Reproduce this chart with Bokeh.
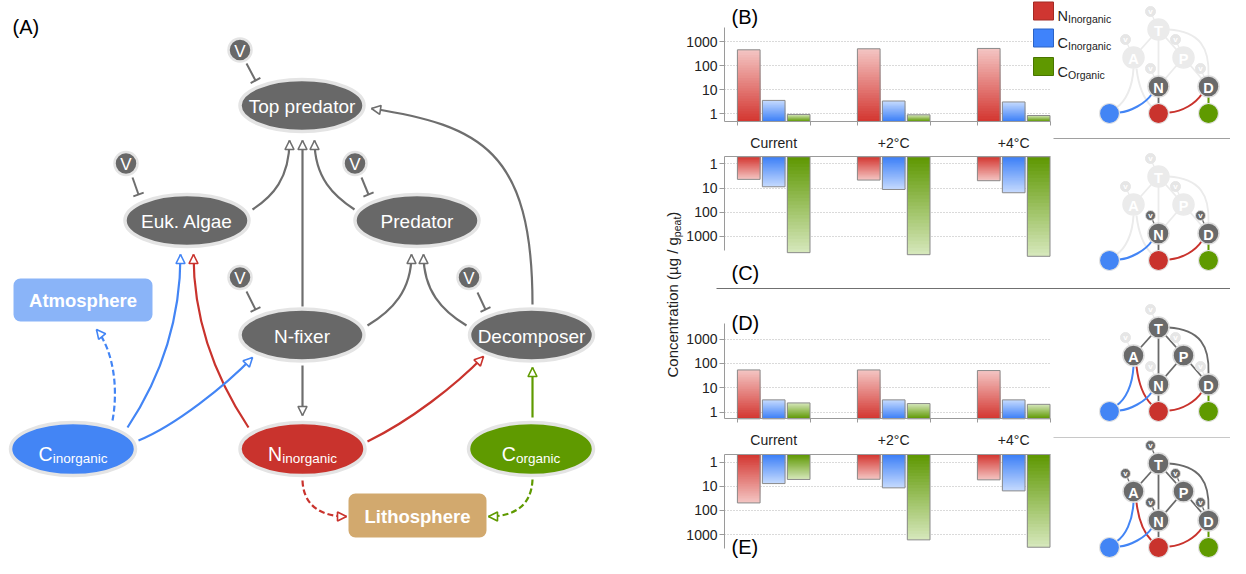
import math
from bokeh.plotting import figure
from bokeh.models import (Range1d, LogScale, LinearScale, LogAxis, LinearAxis, FixedTicker,
                          BasicTickFormatter, Grid, Arrow, NormalHead, TeeHead, ColumnDataSource)
from bokeh.core.properties import value
from bokeh.embed import file_html
from bokeh.resources import INLINE

# ---------------------------------------------------------------- data
categories = ["Current", "+2°C", "+4°C"]
series_labels = [("N", "Inorganic"), ("C", "Inorganic"), ("C", "Organic")]
y_ticks = [1, 10, 100, 1000]

# (B) network without virus, rhizosphere pools (upward bars)
B_N_inorganic = [452, 498, 515]
B_C_inorganic = [3.6, 3.4, 3.1]
B_C_organic = [0.94, 0.91, 0.85]
# (C) with viruses on N-fixer / decomposer (downward bars)
C_N_inorganic = [4.4, 4.7, 5.0]
C_C_inorganic = [8.9, 11.5, 15.7]
C_C_organic = [4700, 5700, 6650]
# (D) full network, no virus (upward bars)
D_N_inorganic = [54, 54, 51]
D_C_inorganic = [3.2, 3.2, 3.2]
D_C_organic = [2.4, 2.26, 2.1]
# (E) full network with viruses (downward bars)
E_N_inorganic = [49, 5.1, 5.4]
E_C_inorganic = [7.7, 11.6, 15.5]
E_C_organic = [5.2, 1670, 3380]

# ---------------------------------------------------------------- styles
FONT = "Liberation Sans"
GRAY = "#6e6e6e"
NODE = "#686868"
RING = "#e4e4e4"
BLUE = "#4385f5"
RED = "#c9332d"
GREEN = "#5f9a00"
FADE = "#ebebeb"

W, H = 1230, 558
X0, Y0 = 0, 0

p = figure(width=W, height=H, x_range=Range1d(X0, X0 + W), y_range=Range1d(Y0 + H, Y0),
           x_axis_type=None, y_axis_type=None, output_backend="svg", toolbar_location=None,
           min_border=0, outline_line_color=None, background_fill_color="white")


def txt(x, y, s, size, color="black", align="center", baseline="middle", bold=False, angle=0.0):
    p.text(x=[x], y=[y], text=[s], text_font=value(FONT), text_font_size=value(f"{size}px"),
           text_color=color, text_align=align, text_baseline=baseline,
           text_font_style="bold" if bold else "normal", angle=angle)


WID = {"C": .722, "N": .722, "i": .222, "n": .556, "o": .556, "r": .333, "g": .556, "a": .556,
       "c": .5, "I": .278, "O": .778, "p": .556, "e": .556, "t": .278, " ": .278, "(": .333,
       ")": .333, "µ": .576, "/": .278}


def twidth(s, size):
    return sum(WID.get(ch, .556) for ch in s) * size


def sub_label(xc, yc, main, sub, msize, ssize, color="white"):
    total = twidth(main, msize) + twidth(sub, ssize)
    x = xc - total / 2
    txt(x, yc + 0.36 * msize, main, msize, color, align="left", baseline="alphabetic")
    txt(x + twidth(main, msize), yc + 0.36 * msize + 4, sub, ssize, color, align="left",
        baseline="alphabetic")


def head_source(items):
    d = dict(x0=[], y0=[], x1=[], y1=[])
    for (ax, ay, bx, by) in items:
        L = math.hypot(bx - ax, by - ay)
        ux, uy = (bx - ax) / L, (by - ay) / L
        d["x0"].append(bx - 3 * ux)
        d["y0"].append(by - 3 * uy)
        d["x1"].append(bx)
        d["y1"].append(by)
    return ColumnDataSource(d)


# ================================================================ panel A : network
txt(12, 26, "(A)", 20, "black", align="left")

curves = [
    (252, 209, 272, 196, 289, 178, 289, 140, GRAY, "solid"),   # Euk -> Top
    (354, 209, 334, 196, 314, 178, 314, 140, GRAY, "solid"),   # Pred -> Top
    (532, 304, 532, 150, 480, 125, 371, 108, GRAY, "solid"),   # Dec -> Top
    (367, 325, 392, 310, 411, 290, 411, 254, GRAY, "solid"),   # Nfix -> Pred
    (466, 325, 441, 310, 423, 290, 423, 254, GRAY, "solid"),   # Dec -> Pred
    (127, 427, 165, 370, 180, 310, 180, 254, BLUE, "solid"),   # Ci -> Euk
    (248, 427, 210, 370, 193, 310, 193, 254, RED, "solid"),    # Ni -> Euk
    (138, 440, 175, 425, 225, 385, 252, 357, BLUE, "solid"),   # Ci -> Nfix
    (112, 420, 118, 388, 113, 350, 96, 329, BLUE, "dashed"),   # Ci -> Atmosphere
    (367, 441, 410, 420, 455, 385, 483, 356, RED, "solid"),    # Ni -> Dec
    (302, 480, 303, 505, 320, 516, 346, 516, RED, "dashed"),   # Ni -> Lithosphere
    (532, 479, 531, 505, 514, 516, 488, 516, GREEN, "dashed"),  # Co -> Lithosphere
]
straights = [
    (302, 306, 302, 140, GRAY),   # Nfix -> Top
    (302, 365, 302, 415, GRAY),   # Nfix -> Ni
    (532, 417, 532, 367, GREEN),  # Co -> Dec
]
heads = {GRAY: [], BLUE: [], RED: [], GREEN: []}
for (x0, y0, cx0, cy0, cx1, cy1, x1, y1, col, dash) in curves:
    p.bezier(x0=[x0], y0=[y0], cx0=[cx0], cy0=[cy0], cx1=[cx1], cy1=[cy1], x1=[x1], y1=[y1],
             line_color=col, line_width=2.2, line_dash="6 3" if dash == "dashed" else "solid")
    heads[col].append((cx1, cy1, x1, y1))
for (x0, y0, x1, y1, col) in straights:
    p.segment(x0=[x0], y0=[y0], x1=[x1], y1=[y1], line_color=col, line_width=2.2)
    heads[col].append((x0, y0, x1, y1))
for col, items in heads.items():
    p.add_layout(Arrow(end=NormalHead(size=9, fill_color="white", line_color=col, line_width=1.6),
                       source=head_source(items), x_start="x0", y_start="y0", x_end="x1",
                       y_end="y1", line_alpha=0))

# virus inhibition lines
tees = [(246, 63, 255, 80), (132, 177, 138, 194), (361, 177, 368, 194),
        (246, 291, 255, 309), (477, 292, 485, 309)]
tsrc = ColumnDataSource(dict(x0=[t[0] for t in tees], y0=[t[1] for t in tees],
                             x1=[t[2] for t in tees], y1=[t[3] for t in tees]))
p.add_layout(Arrow(end=TeeHead(size=11, line_color=GRAY, line_width=2), source=tsrc,
                   x_start="x0", y_start="y0", x_end="x1", y_end="y1",
                   line_color=GRAY, line_width=2))

# boxes
p.quad(left=[13], right=[152], top=[278], bottom=[321], fill_color="#8ab4f8", line_color=None,
       border_radius=7)
txt(82.5, 300, "Atmosphere", 18.5, "white", bold=True)
p.quad(left=[348], right=[486], top=[493], bottom=[537], fill_color="#d2a96e", line_color=None,
       border_radius=7)
txt(417, 516, "Lithosphere", 18.5, "white", bold=True)

# organism ellipses
orgs = [(301.5, 105, "Top predator"), (186.5, 220, "Euk. Algae"), (416.5, 220, "Predator"),
        (301.5, 334.5, "N-fixer"), (531, 334.5, "Decomposer")]
p.ellipse(x=[o[0] for o in orgs], y=[o[1] for o in orgs], width=124, height=52,
          width_units="screen", height_units="screen", fill_color=NODE, line_color=RING,
          line_width=3.5)
for (x, y, s) in orgs:
    txt(x, y + 1, s, 19, "white")

# pool ellipses
pools = [(72.5, 448.5, BLUE, "C", "inorganic"), (302, 448.5, RED, "N", "inorganic"),
         (530.5, 448.5, GREEN, "C", "organic")]
p.ellipse(x=[q[0] for q in pools], y=[q[1] for q in pools], width=125, height=53,
          width_units="screen", height_units="screen", fill_color=[q[2] for q in pools],
          line_color=RING, line_width=3.5)
for (x, y, c, m, s) in pools:
    sub_label(x, y - 2, m, s, 19.5, 13.5)

# virus circles
vir = [(239.5, 49.5), (125.5, 163), (354.5, 163), (239.5, 277), (468.5, 277)]
p.scatter(x=[v[0] for v in vir], y=[v[1] for v in vir], size=23, marker="circle",
          fill_color=NODE, line_color=RING, line_width=2.5)
for (x, y) in vir:
    txt(x, y + 1, "V", 17, "white")

# ================================================================ bar panels
PX_PER_CAT = 120.0
CAT0 = 773.2
p.extra_x_ranges["bars"] = Range1d((X0 - CAT0) / PX_PER_CAT, (X0 + W - CAT0) / PX_PER_CAT)
p.extra_x_scales["bars"] = LinearScale()
AXIS_X = 724.0
XLO = (AXIS_X - CAT0) / PX_PER_CAT
XHI = (1050.0 - CAT0) / PX_PER_CAT
offsets = [-0.208, 0.0, 0.208]
BW = 0.189
edges = []
for i in range(len(categories)):
    edges += [i - 0.3025, i + 0.3025]

panel_geom = {
    "B": dict(y1=113.3, dec=24.1, down=False, far=27.0, near=121.0, labels=True),
    "C": dict(y1=163.3, dec=24.2, down=True, far=250.0, near=156.3, labels=False),
    "D": dict(y1=411.7, dec=24.4, down=False, far=323.3, near=418.3, labels=True),
    "E": dict(y1=461.7, dec=24.1, down=True, far=548.0, near=454.0, labels=False),
}
panel_data = {
    "B": (B_N_inorganic, B_C_inorganic, B_C_organic),
    "C": (C_N_inorganic, C_C_inorganic, C_C_organic),
    "D": (D_N_inorganic, D_C_inorganic, D_C_organic),
    "E": (E_N_inorganic, E_C_inorganic, E_C_organic),
}
grad = [("#d3352f", "#f4c6c4"), ("#3b7ef7", "#c6dbfe"), ("#5d9700", "#d7e8bd")]


def val_at(g, ypx):
    e = (ypx - g["y1"]) / g["dec"] if g["down"] else (g["y1"] - ypx) / g["dec"]
    return 10 ** e


def hex2rgb(h):
    h = h.lstrip("#")
    return tuple(int(h[i:i + 2], 16) for i in (0, 2, 4))


def lerp_hex(a, b, t):
    ra, rb = hex2rgb(a), hex2rgb(b)
    return "#%02x%02x%02x" % tuple(int(round(ra[i] + (rb[i] - ra[i]) * t)) for i in range(3))


NSL = 28
for name, g in panel_geom.items():
    p.extra_y_ranges[name] = Range1d(val_at(g, Y0 + H), val_at(g, Y0))
    p.extra_y_scales[name] = LogScale()
    base = val_at(g, g["near"])
    far = val_at(g, g["far"])
    lo_v, hi_v = min(base, far), max(base, far)

    # grid
    if "cross_bounds" in Grid.properties():
        grid = Grid(dimension=1, ticker=FixedTicker(ticks=y_ticks), x_range_name="bars",
                    y_range_name=name, grid_line_color="#b4b4b4", grid_line_dash="1 2",
                    grid_line_width=1, cross_bounds=(XLO, XHI))
        p.renderers.append(grid)
    else:
        p.segment(x0=[XLO] * 4, x1=[XHI] * 4, y0=y_ticks, y1=y_ticks, line_color="#b4b4b4",
                  line_dash="1 2", x_range_name="bars", y_range_name=name)

    # bars with a gradient from the axis to the tip
    for si, vals in enumerate(panel_data[name]):
        c_base, c_tip = grad[si]
        d = dict(x=[], top=[], col=[])
        for ci, v in enumerate(vals):
            for k in range(NSL, 0, -1):
                d["x"].append(ci + offsets[si])
                d["top"].append(base * (v / base) ** (k / NSL))
                d["col"].append(lerp_hex(c_base, c_tip, (k - 0.5) / NSL))
        p.vbar(x="x", top="top", bottom=base, width=BW, fill_color="col", line_color=None,
               source=ColumnDataSource(d), x_range_name="bars", y_range_name=name)
        p.vbar(x=[ci + offsets[si] for ci in range(len(categories))], top=list(vals), bottom=base,
               width=BW, fill_color=None, line_color="#8a8a8a", line_width=1,
               x_range_name="bars", y_range_name=name)

    # y axis
    ya = LogAxis(y_range_name=name, fixed_location=AXIS_X, bounds=(lo_v, hi_v),
                 ticker=FixedTicker(ticks=y_ticks), formatter=BasicTickFormatter(),
                 axis_line_color="#9a9a9a", major_tick_out=5, major_tick_in=0,
                 major_tick_line_color="#9a9a9a",
                 minor_tick_out=0, minor_tick_in=0, major_label_standoff=2,
                 major_label_text_font=FONT, major_label_text_font_size="14px",
                 major_label_text_color="#222222")
    p.add_layout(ya, "left")

    # x axis (category axis)
    if g["labels"]:
        xa = LinearAxis(x_range_name="bars", y_range_name=name, fixed_location=base,
                        bounds=(XLO, XHI),
                        ticker=FixedTicker(ticks=list(range(len(categories))), minor_ticks=edges),
                        major_label_overrides={i: c for i, c in enumerate(categories)},
                        axis_line_color="#9a9a9a", major_tick_out=0, major_tick_in=0,
                        minor_tick_out=4, minor_tick_in=0, minor_tick_line_color="#9a9a9a",
                        major_label_standoff=9, major_label_text_font=FONT,
                        major_label_text_font_size="14px", major_label_text_color="#222222")
        p.add_layout(xa, "below")
    else:
        xa = LinearAxis(x_range_name="bars", y_range_name=name, fixed_location=base,
                        bounds=(XLO, XHI), ticker=FixedTicker(ticks=[], minor_ticks=[]),
                        axis_line_color="#9a9a9a", major_tick_out=0, minor_tick_out=0)
        p.add_layout(xa, "above")

# panel letters
for s, y in [("(B)", 16), ("(C)", 272), ("(D)", 322), ("(E)", 546)]:
    txt(731, y, s, 20, "black", align="left")

# y axis title (rotated, with subscript)
ystart = 377.0
main = "Concentration (µg / g"
txt(672, ystart, main, 15, "#222222", align="left", angle=math.pi / 2)
y2 = ystart - twidth(main, 15)
txt(676.5, y2, "peat", 10.5, "#222222", align="left", angle=math.pi / 2)
y3 = y2 - twidth("peat", 10.5)
txt(672, y3, ")", 15, "#222222", align="left", angle=math.pi / 2)

# separators
p.segment(x0=[1053], y0=[138], x1=[X0 + W], y1=[138], line_color="#a0a0a0", line_width=1)
p.segment(x0=[716], y0=[288], x1=[X0 + W], y1=[288], line_color="#707070", line_width=1)
p.segment(x0=[1053], y0=[437], x1=[X0 + W], y1=[437], line_color="#c8c8c8", line_width=1)

# legend
leg_cols = [("#cf3631", "#a32a25"), ("#3f83fb", "#2c63c4"), ("#5f9800", "#497500")]
leg_y = [10.5, 37.5, 66]
for (fc, lc), yy, (m, s) in zip(leg_cols, leg_y, series_labels):
    p.quad(left=[1033], right=[1053], top=[yy - 9], bottom=[yy + 9], fill_color=fc,
           line_color=lc, line_width=1)
    txt(1057, yy + 5, m, 14.5, "#222222", align="left", baseline="alphabetic")
    txt(1057 + twidth(m, 14.5), yy + 8, s, 10.5, "#222222", align="left", baseline="alphabetic")

# ================================================================ network icons
ICON_N = {"T": (1158, 29), "A": (1133, 57), "P": (1183, 57), "N": (1158, 86), "D": (1208, 86)}
ICON_P = {"Ci": (1109, 113, BLUE), "Ni": (1158, 113, RED), "Co": (1208, 113, GREEN)}
icon_dy = [0, 147, 298, 434]
icon_active = [{"N", "D"}, {"N", "D"}, {"T", "A", "P", "N", "D"}, {"T", "A", "P", "N", "D"}]
icon_vact = [set(), {"N", "D"}, set(), {"T", "A", "P", "N", "D"}]
ICON_GRAY = "#6a6a6a"

for dy, act, vact in zip(icon_dy, icon_active, icon_vact):
    P = {k: (v[0], v[1] + dy) for k, v in ICON_N.items()}
    Q = {k: (v[0], v[1] + dy, v[2]) for k, v in ICON_P.items()}
    ok = lambda *ns: all(n in act for n in ns)
    # virus links
    for n, (x, y) in P.items():
        c = ICON_GRAY if n in vact else FADE
        p.segment(x0=[x - 8], y0=[y - 18], x1=[x], y1=[y], line_color=c, line_width=1.3)
    # straight gray edges
    for a, b in [("T", "A"), ("T", "N"), ("T", "P"), ("P", "N"), ("P", "D")]:
        p.segment(x0=[P[a][0]], y0=[P[a][1]], x1=[P[b][0]], y1=[P[b][1]],
                  line_color=ICON_GRAY if ok(a, b) else FADE, line_width=1.8)
    T, A, N, D = P["T"], P["A"], P["N"], P["D"]
    Ci, Ni, Co = Q["Ci"], Q["Ni"], Q["Co"]
    p.bezier(x0=[T[0] + 10], y0=[T[1]], cx0=[T[0] + 42], cy0=[T[1] + 2], cx1=[D[0] + 1],
             cy1=[D[1] - 38], x1=[D[0]], y1=[D[1] - 11],
             line_color=ICON_GRAY if ok("T", "D") else FADE, line_width=1.8)
    p.segment(x0=[N[0]], y0=[N[1]], x1=[Ni[0]], y1=[Ni[1]],
              line_color=ICON_GRAY if ok("N") else FADE, line_width=1.8)
    p.segment(x0=[D[0]], y0=[D[1]], x1=[Co[0]], y1=[Co[1]],
              line_color=GREEN if ok("D") else FADE, line_width=2)
    p.bezier(x0=[A[0]], y0=[A[1] + 11], cx0=[A[0] - 1], cy0=[A[1] + 30], cx1=[Ci[0] + 16],
             cy1=[Ci[1] - 12], x1=[Ci[0] + 7], y1=[Ci[1] - 6],
             line_color=BLUE if ok("A") else FADE, line_width=2)
    p.bezier(x0=[A[0] + 3], y0=[A[1] + 11], cx0=[A[0] + 5], cy0=[A[1] + 28], cx1=[Ni[0] - 14],
             cy1=[Ni[1] - 14], x1=[Ni[0] - 7], y1=[Ni[1] - 7],
             line_color=RED if ok("A") else FADE, line_width=2)
    p.bezier(x0=[N[0] - 7], y0=[N[1] + 8], cx0=[N[0] - 13], cy0=[N[1] + 17], cx1=[Ci[0] + 21],
             cy1=[Ci[1] - 2], x1=[Ci[0] + 10], y1=[Ci[1] - 1],
             line_color=BLUE if ok("N") else FADE, line_width=2)
    p.bezier(x0=[Ni[0] + 11], y0=[Ni[1] - 1], cx0=[Ni[0] + 24], cy0=[Ni[1] - 2],
             cx1=[D[0] - 13], cy1=[D[1] + 17], x1=[D[0] - 7], y1=[D[1] + 8],
             line_color=RED if ok("D") else FADE, line_width=2)
    # pools
    p.scatter(x=[q[0] for q in Q.values()], y=[q[1] for q in Q.values()], size=20,
              marker="circle", fill_color=[q[2] for q in Q.values()], line_color="#e2e2e2",
              line_width=1.2)
    # organisms
    for n, (x, y) in P.items():
        on = n in act
        p.scatter(x=[x], y=[y], size=21, marker="circle", fill_color=ICON_GRAY if on else FADE,
                  line_color="#dcdcdc" if on else FADE, line_width=1.5)
        txt(x, y + 1, n, 14.5, "white", bold=True)
    # viruses
    for n, (x, y) in P.items():
        on = n in vact
        p.scatter(x=[x - 8], y=[y - 18], size=10, marker="circle",
                  fill_color=ICON_GRAY if on else "#e6e6e6", line_color="#e0e0e0" if on else "#e6e6e6",
                  line_width=1)
        txt(x - 8, y - 18, "v", 8, "white", bold=True)

open("out.html", "w").write(file_html(p, INLINE))
